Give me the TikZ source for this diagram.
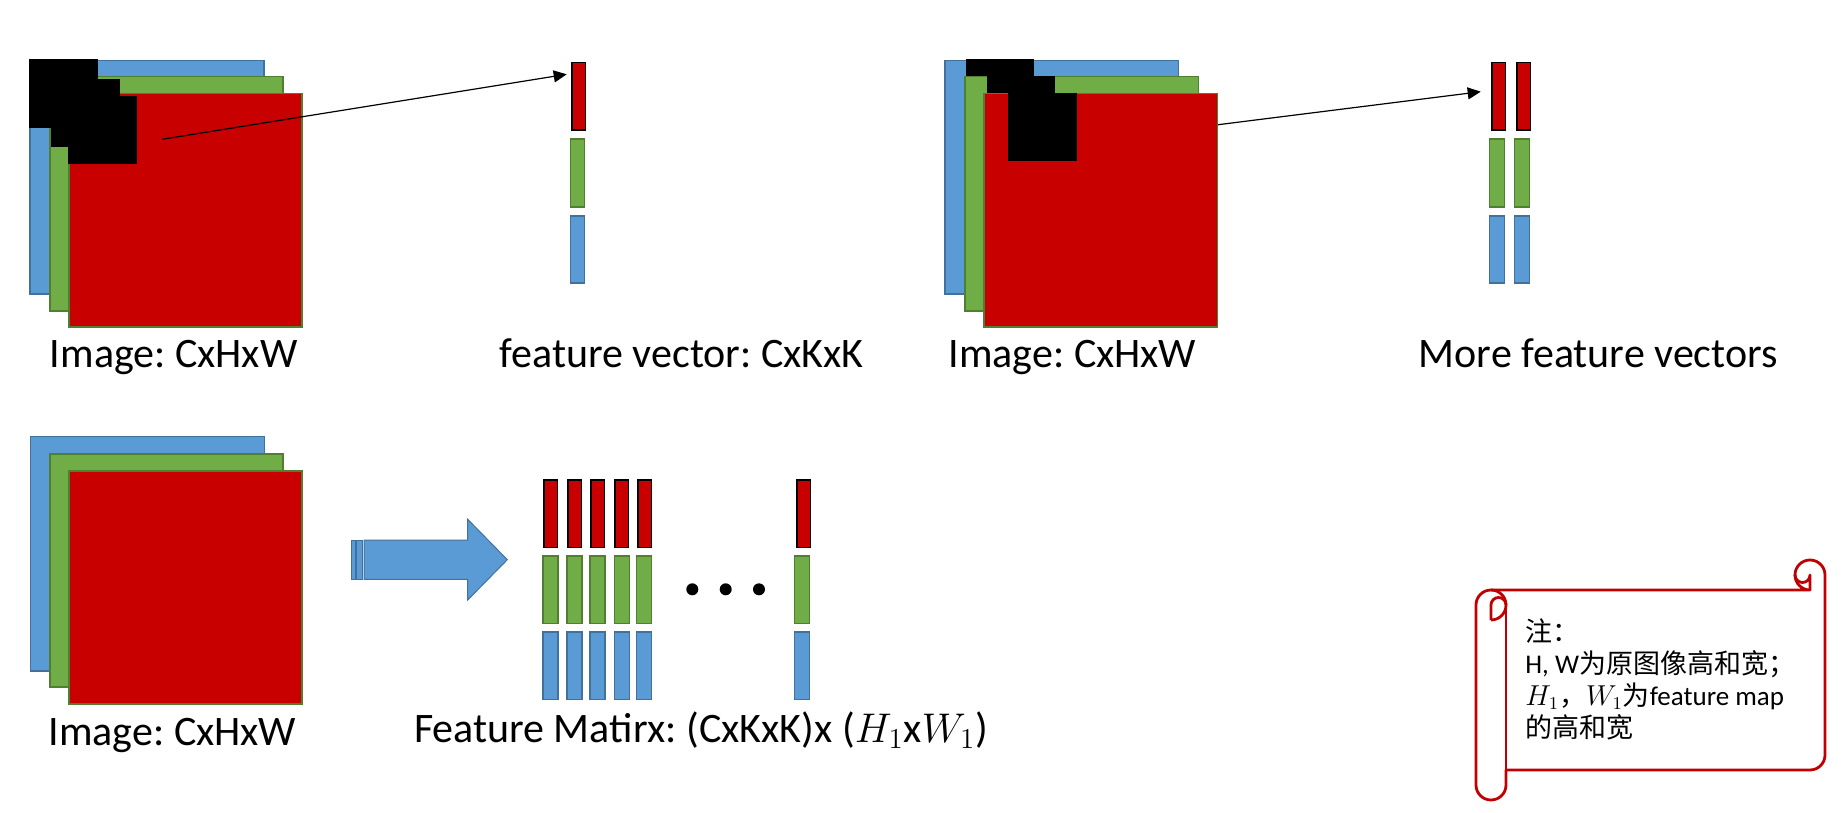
\documentclass[tikz,border=0pt]{standalone}
\usepackage{fontspec}
\setmainfont{Carlito}
\newfontfamily\cjk{Noto Sans CJK SC}
\usetikzlibrary{arrows.meta}
\definecolor{bF}{HTML}{5B9BD5}
\definecolor{bD}{HTML}{41719C}
\definecolor{gF}{HTML}{70AD47}
\definecolor{gD}{HTML}{507E32}
\definecolor{rF}{HTML}{C80000}
\definecolor{scr}{HTML}{C00000}
\frenchspacing
\begin{document}
\begin{tikzpicture}[x=0.5pt,y=-0.5pt,
  bl/.style={fill=bF,draw=bD,line width=0.8pt},
  gr/.style={fill=gF,draw=gD,line width=0.8pt},
  rd/.style={fill=rF,draw=gD,line width=0.8pt},
  win/.style={fill=black},
  rbar/.style={fill=rF,draw=black,line width=0.8pt},
  gbar/.style={fill=gF,draw=gD,line width=0.8pt},
  bbar/.style={fill=bF,draw=bD,line width=0.8pt},
  conn/.style={-{Triangle[length=6.5pt,width=6pt]},line width=0.6pt},
  lab/.style={font=\fontsize{21}{25}\selectfont,anchor=base,inner sep=0pt},
  note/.style={font=\fontsize{13.5}{16}\selectfont,anchor=base west,inner sep=0pt},
  bigarrow/.style={fill=bF,draw=bD,line width=0.5pt},
  scroll/.style={draw=scr,line width=1.4pt,fill=white,line join=round}
]
\path[use as bounding box] (0,0) rectangle (1843,813);

% ---------- stack 1 (top left) ----------
\draw[bl] (30,60.7) rectangle (264,294);
\draw[gr] (50,76.7) rectangle (283,310.7);
\draw[rd] (68.7,93.7) rectangle (302,326.7);
\fill[win] (29,59) rectangle (97.7,127.7);
\fill[win] (50.7,79) rectangle (119.7,146.7);
\fill[win] (68,96) rectangle (136.7,163.7);
\coordinate (s1) at (162,139.3);
\coordinate (t1) at (566.7,74.3);
\draw[conn] (s1) -- (t1);
\node[lab] (img1) at (173.7,367.7) {Image: CxHxW};

% feature vector
\draw[rbar] (571.7,62.7) rectangle (585.3,130);
\draw[gbar] (570.3,139.3) rectangle (584.3,206.7);
\draw[bbar] (570.3,215.7) rectangle (584.3,283);
\node[lab] (fv) at (681.7,367.7) {feature vector: CxKxK};

% ---------- stack 2 (top right) ----------
\coordinate (s2) at (1102,139.3);
\coordinate (t2) at (1480.7,91.7);
\draw[bl] (944.7,60.7) rectangle (1178.3,294);
\fill[win] (966,59) rectangle (1034,127);
\draw[conn] (s2) -- (t2);
\draw[gr] (964.7,76.7) rectangle (1198.3,310.7);
\fill[win] (987.3,76) rectangle (1055,144);
\draw[rd] (984,93.7) rectangle (1217.3,326.7);
\fill[win] (1008,93.3) rectangle (1077,160.7);
\node[lab] (img2) at (1072.5,367.7) {Image: CxHxW};

% more feature vectors
\foreach \dx in {0,25}{
  \draw[rbar] (1491.7+\dx,62.7) rectangle (1505.3+\dx,130);
  \draw[gbar] (1489.3+\dx,139.3) rectangle (1504.3+\dx,206.7);
  \draw[bbar] (1489.3+\dx,215.7) rectangle (1504.3+\dx,283);
}
\node[lab] (mfv) at (1598.3,367.7) {More feature vectors};

% ---------- stack 3 (bottom) ----------
\draw[bl] (30.3,436.3) rectangle (264.3,670.7);
\draw[gr] (49.7,453.7) rectangle (283,687);
\draw[rd] (68.7,471) rectangle (302,703.7);
\node[lab] (img3) at (172.5,745) {Image: CxHxW};

% big block arrow
\draw[bigarrow] (351,540) rectangle (355.3,579.3);
\draw[bigarrow] (356.3,540) rectangle (362,579.3);
\draw[bigarrow] (364,540) -- (467.7,540) -- (467.7,519.3) -- (507.3,559.7)
  -- (467.7,600) -- (467.7,579.3) -- (364,579.3) -- cycle;

% feature matrix
\foreach \xr/\xg in {543.7/543, 567.7/567, 590.7/590, 614.7/614.3, 637.7/636.3, 796.7/794.3}{
  \draw[rbar] (\xr,480) rectangle (\xr+13.8,547.3);
  \draw[gbar] (\xg,555.7) rectangle (\xg+15,623.3);
  \draw[bbar] (\xg,631.7) rectangle (\xg+15,699.3);
}
\fill (692.3,589.3) circle[radius=6];
\fill (725.7,589.3) circle[radius=6];
\fill (759,589.3) circle[radius=6];
\node[lab] (fm) at (701,742) {Feature Matirx: (CxKxK)x ($H_1$x$W_1$)};

% ---------- scroll note ----------
\draw[scroll] (1491,590) -- (1810,590) arc[start angle=90,end angle=360,radius=15]
  -- (1825,755) arc[start angle=0,end angle=90,radius=15]
  -- (1506,770) -- (1506,785) arc[start angle=0,end angle=180,radius=15]
  -- (1476,605) arc[start angle=180,end angle=270,radius=15] -- cycle;
\draw[scroll,fill=none] (1491,590) arc[start angle=270,end angle=450,radius=15];
\draw[scroll,fill=none] (1506,605) -- (1506,770);
\draw[scroll,fill=none] (1491,620) -- (1491,605) arc[start angle=180,end angle=360,radius=7.5];
\draw[scroll,fill=none] (1810,590) -- (1810,575) arc[start angle=0,end angle=180,radius=7.5];
\node[note] (n1) at (1525,641) {\cjk 注：};
\node[note] (n2) at (1525,673) {H, W{\cjk 为原图像高和宽；}};
\node[note] (n3) at (1525,705) {$H_1${\cjk ，}$W_1${\cjk 为}feature map};
\node[note] (n4) at (1525,737) {\cjk 的高和宽};
\end{tikzpicture}
\end{document}
